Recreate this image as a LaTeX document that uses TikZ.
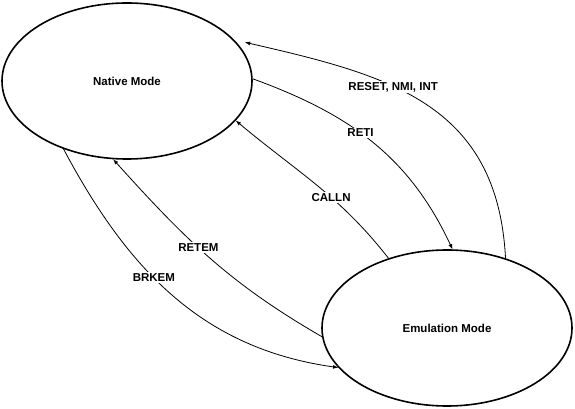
\documentclass[tikz,border=0pt]{standalone}
\usepackage{fontspec}
\setmainfont{Liberation Sans}
\usetikzlibrary{shapes.geometric}

\begin{document}
\begin{tikzpicture}[x=1pt,y=1pt,
  mode/.style={ellipse, draw, line width=1.6pt, minimum width=250pt,
    minimum height=156pt, inner sep=0pt,
    font=\bfseries\fontsize{11.5}{13}\selectfont},
  trans/.style={-latex, line width=0.8pt},
  lbl/.style={fill=white, inner sep=1.5pt,
    font=\bfseries\fontsize{11.5}{13}\selectfont}]

\def\W{575} % picture width
\def\H{409} % picture height
\useasboundingbox (0,0) rectangle (\W,\H);

% --- the two modes ---
\node[mode] (native) at (127,328) {Native Mode};
\node[mode] (emul) at (447,81) {Emulation Mode};

% --- emulation -> native ---
\draw[trans, shorten >=11pt] (emul.50) to[out=93,in=-13,looseness=1.15]
  node[lbl, pos=0.6] (reset) {RESET, NMI, INT} (native.21);
\draw[trans] (emul.130) to[out=128,in=-40]
  node[lbl, pos=0.4] (calln) {CALLN} (native.-20);
\draw[trans] (emul.184) to[out=150,in=-48]
  node[lbl, pos=0.56] (retem) {RETEM} (native.-100);

% --- native -> emulation ---
\draw[trans] (native.1) to[out=-20,in=115]
  node[lbl, pos=0.44] (reti) {RETI} (emul.86);
\draw[trans] (native.-133) to[out=-62,in=172]
  node[lbl, pos=0.42] (brkem) {BRKEM} (emul.200);

\end{tikzpicture}
\end{document}
